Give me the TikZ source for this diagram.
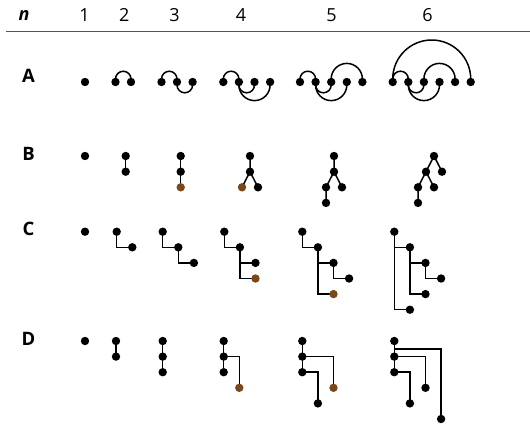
\documentclass[tikz,border=0pt]{standalone}
\usepackage{fontspec}
\setmainfont{Open Sans}
\usetikzlibrary{calc}
\definecolor{leafbrown}{RGB}{122,72,26}
\definecolor{rulegray}{RGB}{85,85,85}
\pgfdeclarelayer{bg}
\pgfsetlayers{bg,main}
\tikzset{
  dot/.style={circle,fill=black,inner sep=0pt,minimum size=8.4pt},
  bdot/.style={dot,fill=leafbrown},
  edge/.style={line width=1.5pt,draw=black},
  lbl/.style={font=\fontsize{18.5}{22}\selectfont\bfseries,inner sep=0pt},
  hdr/.style={font=\fontsize{18}{22}\selectfont,inner sep=0pt}
}
\newcommand{\toparc}[3]{\draw[edge] (#1.center) -- ++(0,3) arc[start angle=180,end angle=0,radius=#3] -- (#2.center);}
\newcommand{\botarc}[3]{\draw[edge] (#1.center) -- ++(0,-3) arc[start angle=180,end angle=360,radius=#3] -- (#2.center);}
\begin{document}
\begin{tikzpicture}[x=1pt,y=1pt]
\useasboundingbox (0,0) rectangle (530,-424);
% header
\node[hdr,font=\fontsize{18}{22}\selectfont\bfseries\itshape] (hn) at (24,-15) {n};
\node[hdr] (h1) at (84.5,-15) {1};
\node[hdr] (h2) at (124.3,-15) {2};
\node[hdr] (h3) at (174.5,-15) {3};
\node[hdr] (h4) at (241,-15) {4};
\node[hdr] (h5) at (331.5,-15) {5};
\node[hdr] (h6) at (427.5,-15) {6};
\coordinate (rl) at (6,-31.5);
\coordinate (rr) at (530,-31.5);
\draw[line width=1.3pt,rulegray] (rl) -- (rr);
% row labels
\node[lbl] (lA) at (28.5,-76) {A};
\node[lbl] (lB) at (28.5,-154) {B};
\node[lbl] (lC) at (28.5,-229) {C};
\node[lbl] (lD) at (28.5,-339) {D};

% ---------------- Row A ----------------
\node[dot] (A11) at (85,-82) {};
\node[dot] (A21) at (115.5,-82) {};
\node[dot] (A22) at (131,-82) {};
\node[dot] (A31) at (161.5,-82) {};
\node[dot] (A32) at (177,-82) {};
\node[dot] (A33) at (192.6,-82) {};
\node[dot] (A41) at (223.3,-82) {};
\node[dot] (A42) at (238.9,-82) {};
\node[dot] (A43) at (254.5,-82) {};
\node[dot] (A44) at (270.1,-82) {};
\node[dot] (A51) at (300,-82) {};
\node[dot] (A52) at (315.6,-82) {};
\node[dot] (A53) at (331.2,-82) {};
\node[dot] (A54) at (346.8,-82) {};
\node[dot] (A55) at (362.4,-82) {};
\node[dot] (A61) at (392.7,-82) {};
\node[dot] (A62) at (408.3,-82) {};
\node[dot] (A63) at (423.9,-82) {};
\node[dot] (A64) at (439.5,-82) {};
\node[dot] (A65) at (455.1,-82) {};
\node[dot] (A66) at (470.7,-82) {};
\begin{pgfonlayer}{bg}
\toparc{A21}{A22}{7.75}
\toparc{A31}{A32}{7.75}
\botarc{A32}{A33}{7.8}
\toparc{A41}{A42}{7.8}
\botarc{A42}{A43}{7.8}
\botarc{A42}{A44}{15.6}
\toparc{A51}{A52}{7.8}
\botarc{A52}{A53}{7.8}
\botarc{A52}{A54}{15.6}
\toparc{A53}{A55}{15.6}
\toparc{A61}{A66}{39}
\toparc{A61}{A62}{7.8}
\botarc{A62}{A63}{7.8}
\botarc{A62}{A64}{15.6}
\toparc{A63}{A65}{15.6}
\end{pgfonlayer}

% ---------------- Row B ----------------
\node[dot] (B11) at (85,-156) {};
\node[dot] (B21) at (125.7,-156) {};
\node[dot] (B22) at (125.7,-171.7) {};
\node[dot] (B31) at (180.7,-156) {};
\node[dot] (B32) at (180.7,-171.7) {};
\node[bdot] (B33) at (180.7,-187.3) {};
\node[dot] (B41) at (250,-156) {};
\node[dot] (B42) at (250,-171.7) {};
\node[bdot] (B43) at (242,-187.3) {};
\node[dot] (B44) at (258,-187.3) {};
\node[dot] (B51) at (334,-156) {};
\node[dot] (B52) at (334,-171.7) {};
\node[dot] (B53) at (326,-187.3) {};
\node[dot] (B54) at (342,-187.3) {};
\node[dot] (B55) at (326,-202.9) {};
\node[dot] (B61) at (434,-156) {};
\node[dot] (B62) at (426,-171.7) {};
\node[dot] (B63) at (442,-171.7) {};
\node[dot] (B64) at (418,-187.3) {};
\node[dot] (B65) at (434,-187.3) {};
\node[dot] (B66) at (418,-202.9) {};
\begin{pgfonlayer}{bg}
\draw[edge] (B21.center) -- (B22.center);
\draw[edge] (B31.center) -- (B32.center) -- (B33.center);
\draw[edge] (B41.center) -- (B42.center) -- (B43.center);
\draw[edge] (B42.center) -- (B44.center);
\draw[edge] (B51.center) -- (B52.center) -- (B53.center) -- (B55.center);
\draw[edge] (B52.center) -- (B54.center);
\draw[edge] (B61.center) -- (B62.center) -- (B64.center) -- (B66.center);
\draw[edge] (B61.center) -- (B63.center);
\draw[edge] (B62.center) -- (B65.center);
\end{pgfonlayer}

% ---------------- Row C ----------------
\node[dot] (C11) at (85,-231.7) {};
\node[dot] (C21) at (116.7,-231.7) {};
\node[dot] (C22) at (132.3,-247.3) {};
\node[dot] (C31) at (162.7,-231.7) {};
\node[dot] (C32) at (178.3,-247.3) {};
\node[dot] (C33) at (193.9,-262.9) {};
\node[dot] (C41) at (224.3,-231.7) {};
\node[dot] (C42) at (239.9,-247.3) {};
\node[dot] (C43) at (255.5,-262.9) {};
\node[bdot] (C44) at (255.5,-278.5) {};
\node[dot] (C51) at (302.3,-231.7) {};
\node[dot] (C52) at (317.9,-247.3) {};
\node[dot] (C53) at (333.5,-262.9) {};
\node[dot] (C54) at (349.1,-278.5) {};
\node[bdot] (C55) at (333.5,-294.1) {};
\node[dot] (C61) at (394.3,-231.7) {};
\node[dot] (C62) at (409.9,-247.3) {};
\node[dot] (C63) at (425.5,-262.9) {};
\node[dot] (C64) at (441.1,-278.5) {};
\node[dot] (C65) at (425.5,-294.1) {};
\node[dot] (C66) at (409.9,-309.7) {};
\begin{pgfonlayer}{bg}
\draw[edge] (C21.center) |- (C22.center);
\draw[edge] (C31.center) |- (C32.center);
\draw[edge] (C32.center) |- (C33.center);
\draw[edge] (C41.center) |- (C42.center);
\draw[edge] (C42.center) |- (C43.center);
\draw[edge] (C42.center) |- (C44.center);
\draw[edge] (C51.center) |- (C52.center);
\draw[edge] (C52.center) |- (C53.center);
\draw[edge] (C53.center) |- (C54.center);
\draw[edge] (C52.center) |- (C55.center);
\draw[edge] (C61.center) |- (C62.center);
\draw[edge] (C61.center) |- (C66.center);
\draw[edge] (C62.center) |- (C63.center);
\draw[edge] (C62.center) |- (C65.center);
\draw[edge] (C63.center) |- (C64.center);
\end{pgfonlayer}

% ---------------- Row D ----------------
\node[dot] (D11) at (85,-341) {};
\node[dot] (D21) at (116,-341) {};
\node[dot] (D22) at (116,-356.6) {};
\node[dot] (D31) at (162.7,-341) {};
\node[dot] (D32) at (162.7,-356.6) {};
\node[dot] (D33) at (162.7,-372.2) {};
\node[dot] (D41) at (223.7,-341) {};
\node[dot] (D42) at (223.7,-356.6) {};
\node[dot] (D43) at (223.7,-372.2) {};
\node[bdot] (D44) at (239.3,-387.8) {};
\node[dot] (D51) at (302.3,-341) {};
\node[dot] (D52) at (302.3,-356.6) {};
\node[dot] (D53) at (302.3,-372.2) {};
\node[dot] (D54) at (317.9,-403.4) {};
\node[bdot] (D55) at (333.5,-387.8) {};
\node[dot] (D61) at (394.3,-341) {};
\node[dot] (D62) at (394.3,-356.6) {};
\node[dot] (D63) at (394.3,-372.2) {};
\node[dot] (D64) at (409.9,-403.4) {};
\node[dot] (D65) at (425.5,-387.8) {};
\node[dot] (D66) at (441.1,-419) {};
\coordinate (D6m) at ($(D61)!0.5!(D62)$);
\begin{pgfonlayer}{bg}
\draw[edge] (D21.center) -- (D22.center);
\draw[edge] (D31.center) -- (D32.center) -- (D33.center);
\draw[edge] (D41.center) -- (D42.center) -- (D43.center);
\draw[edge] (D42.center) -| (D44.center);
\draw[edge] (D51.center) -- (D52.center) -- (D53.center);
\draw[edge] (D52.center) -| (D55.center);
\draw[edge] (D53.center) -| (D54.center);
\draw[edge] (D61.center) -- (D62.center) -- (D63.center);
\draw[edge] (D6m) -| (D66.center);
\draw[edge] (D62.center) -| (D65.center);
\draw[edge] (D63.center) -| (D64.center);
\end{pgfonlayer}
\end{tikzpicture}
\end{document}
